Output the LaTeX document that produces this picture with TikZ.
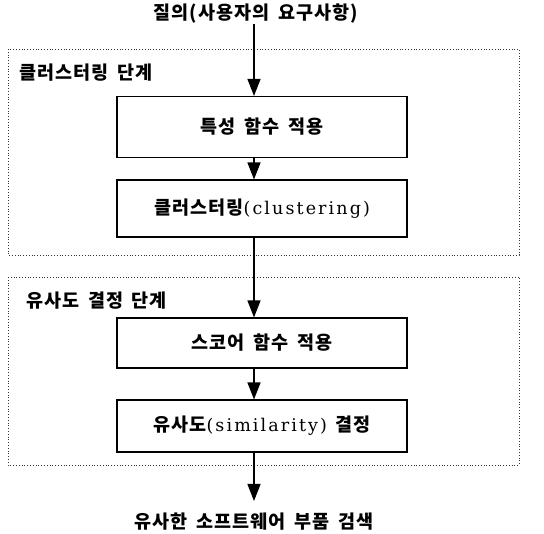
\documentclass[tikz,border=0pt]{standalone}
\usepackage{fontspec}
\setmainfont{Noto Sans CJK KR}[LetterSpace=6, WordSpace=1.6]
\newfontfamily\latf{DejaVu Serif}[LetterSpace=12]
\usetikzlibrary{arrows.meta}
\tikzset{
  x=1pt, y=-1pt,
  stagebox/.style={draw=black!80, dotted, line width=0.8pt},
  procbox/.style={draw, line width=1.1pt, minimum width=290pt, inner sep=0pt, font=\fontsize{18.5}{22}\selectfont\bfseries},
  flow/.style={line width=1.3pt, -{Triangle[length=17pt,width=13pt]}},
  txt/.style={font=\fontsize{18.5}{22}\selectfont\bfseries, inner sep=0pt}
}
\begin{document}
\begin{tikzpicture}
\useasboundingbox (0,0) rectangle (544,534);
\draw[stagebox] (8,49) rectangle (519,255);
\draw[stagebox] (8,277) rectangle (519,465);
\node[txt, anchor=west] (l1) at (19,73) {클러스터링 단계};
\node[txt, anchor=west] (l2) at (26,301) {유사도 결정 단계};
\node[txt] (q) at (256,14) {질의(사용자의 요구사항)};
\node[procbox, minimum height=61pt] (b1) at (262,127) {특성 함수 적용};
\node[procbox, minimum height=57pt] (b2) at (262,208.5) {클러스터링{\latf\mdseries\fontsize{17.5}{20}\selectfont (clustering)}};
\node[procbox, minimum height=50pt] (b3) at (262,343) {스코어 함수 적용};
\node[procbox, minimum height=52pt] (b4) at (262,426) {유사도{\latf\mdseries\fontsize{17.5}{20}\selectfont (similarity)} 결정};
\node[txt] (out) at (254,522) {유사한 소프트웨어 부품 검색};
\coordinate (e) at (254,501);
\draw[flow] (q.south -| e) -- (b1.north -| e);
\draw[flow] (b1.south -| e) -- (b2.north -| e);
\draw[flow] (b2.south -| e) -- (b3.north -| e);
\draw[flow] (b3.south -| e) -- (b4.north -| e);
\draw[flow] (b4.south -| e) -- (e);
\end{tikzpicture}
\end{document}
